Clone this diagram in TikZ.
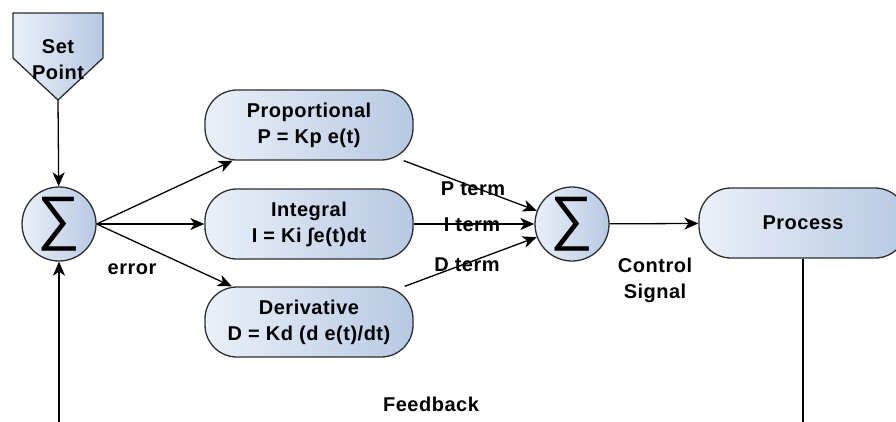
\documentclass[tikz,border=0pt]{standalone}
\usepackage{fontspec}
\setmainfont[LetterSpace=2.5]{Liberation Sans}
\newfontfamily\symfont{Liberation Sans}
\usetikzlibrary{arrows.meta,calc}

\definecolor{boxL}{HTML}{EAF0F8}
\definecolor{boxR}{HTML}{B7C9E3}
\definecolor{edgeC}{HTML}{2E2E2E}
\newcommand\lbl{\fontsize{20}{26}\selectfont\bfseries}
\newcommand\sumsym{\symfont\fontsize{60}{60}\selectfont ∑}

\begin{document}
\begin{tikzpicture}[x=1pt,y=-1pt,
  fillblue/.style={left color=boxL, right color=boxR, draw=edgeC, line width=1.3},
  pidbox/.style={fillblue, rounded corners=32, minimum width=208, minimum height=70,
                 inner sep=0, align=center, font=\lbl},
  sumnode/.style={circle, fillblue, minimum size=74, inner sep=0},
  txt/.style={font=\lbl, align=center, inner sep=0},
  conn/.style={line width=1.3, draw=black},
  arr/.style={conn, -{Stealth[length=14,width=12,inset=4]}}]

\useasboundingbox (0,0) rectangle (896,421);
\clip (0,0) rectangle (896,421);

% set point (off-page connector shape)
\path[fillblue] (13,13) -- (103,13) -- (103,58) -- (58,100) -- (13,58) -- cycle;
\node[txt] (sp) at (58,60) {Set\\Point};
\coordinate (sptip) at (58,100);

% summing junctions and blocks
\node[sumnode] (s1) at (59,224) {\sumsym};
\node[pidbox] (prop)  at (309,125) {Proportional\\P = Kp e(t)};
\node[pidbox] (integ) at (309,224) {Integral\\I = Ki ∫e(t)dt};
\node[pidbox] (deriv) at (309,322) {Derivative\\D = Kd (d e(t)/dt)};
\node[sumnode] (s2) at (572,224) {\sumsym};
\node[pidbox] (proc)  at (803,223) {Process};

% signal flow
\draw[arr] (sptip) -- (s1);
\draw[arr] (s1.east) -- (prop);
\draw[arr] (s1.east) -- (integ);
\draw[arr] (s1.east) -- (deriv);
\draw[arr] (prop) -- (s2);
\draw[arr] (integ) -- (s2);
\draw[arr] (deriv) -- (s2);
\draw[arr] (s2) -- (proc);
\draw[arr] (proc.south) -- ++(0,230) -| (s1.south);

% labels
\node[txt] (lerr) at (132,269) {error};
\node[txt] (lp) at (473,189) {P term};
\node[txt] (li) at (472,225) {I term};
\node[txt] (ld) at (467,265) {D term};
\node[txt] (lcs) at (655,280) {Control\\Signal};
\node[txt] (lfb) at (431,404) {Feedback};
\end{tikzpicture}
\end{document}
